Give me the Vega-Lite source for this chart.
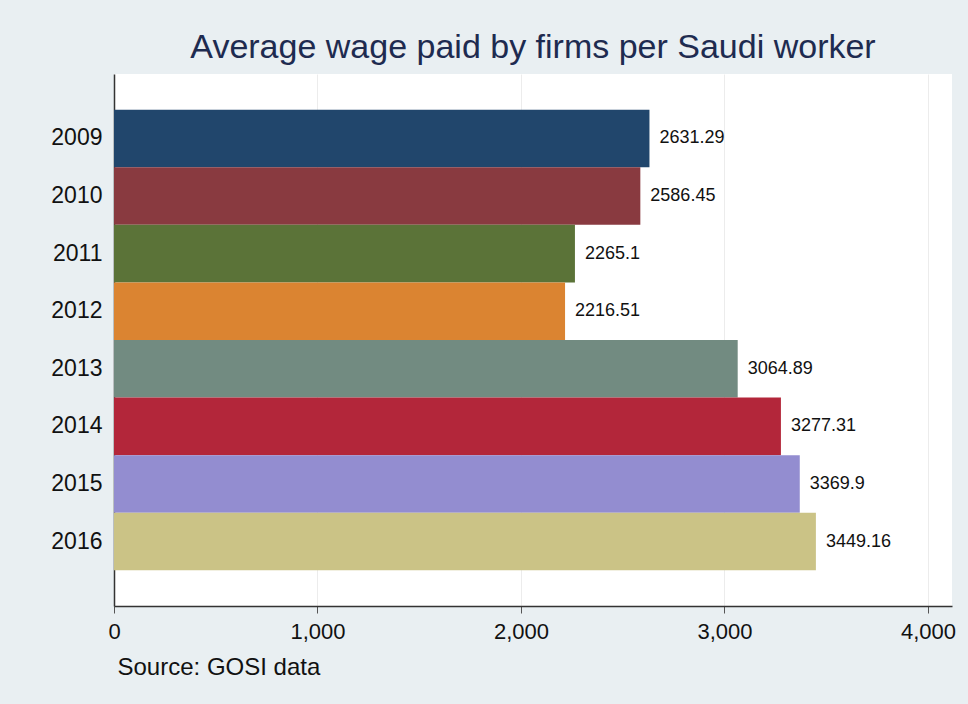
{
  "$schema": "https://vega.github.io/schema/vega-lite/v6.json",
  "autosize": {"type": "none"},
  "padding": {"left": 114, "top": 74, "right": 16, "bottom": 98},
  "width": 838,
  "height": 532,
  "background": "#e9eff2",
  "title": {
    "text": "Average wage paid by firms per Saudi worker",
    "anchor": "middle",
    "font": "Liberation Sans",
    "fontSize": 34,
    "fontWeight": "normal",
    "color": "#1e2b50",
    "offset": 9
  },
  "config": {
    "view": {"fill": "white", "stroke": null},
    "font": "Liberation Sans"
  },
  "data": {
    "values": [
      {"year": "2009", "wage": 2631.29},
      {"year": "2010", "wage": 2586.45},
      {"year": "2011", "wage": 2265.1},
      {"year": "2012", "wage": 2216.51},
      {"year": "2013", "wage": 3064.89},
      {"year": "2014", "wage": 3277.31},
      {"year": "2015", "wage": 3369.9},
      {"year": "2016", "wage": 3449.16}
    ]
  },
  "encoding": {
    "y": {
      "field": "year",
      "type": "nominal",
      "sort": "ascending",
      "scale": {"paddingInner": 0, "paddingOuter": 0.62},
      "axis": {
        "title": null,
        "ticks": false,
        "grid": false,
        "domainColor": "#333333",
        "domainWidth": 1.5,
        "labelFontSize": 23,
        "labelColor": "#111111",
        "labelPadding": 12
      }
    },
    "x": {
      "field": "wage",
      "type": "quantitative",
      "scale": {"domain": [0, 4118], "nice": false, "zero": true},
      "axis": {
        "values": [0, 1000, 2000, 3000, 4000],
        "format": ",.0f",
        "title": "Source: GOSI data",
        "titleAnchor": "start",
        "titleAlign": "left",
        "titleX": 3,
        "titleFontSize": 24,
        "titleFontWeight": "normal",
        "titleColor": "#111111",
        "titlePadding": 13,
        "labelFontSize": 22,
        "labelColor": "#111111",
        "labelPadding": 8,
        "labelOverlap": false,
        "labelFlush": false,
        "domainColor": "#333333",
        "domainWidth": 1.5,
        "tickColor": "#555555",
        "tickSize": 7,
        "grid": true,
        "gridColor": "#ececec",
        "gridWidth": 1
      }
    }
  },
  "layer": [
    {
      "mark": {"type": "bar"},
      "encoding": {
        "color": {
          "field": "year",
          "type": "nominal",
          "legend": null,
          "scale": {
            "domain": ["2009", "2010", "2011", "2012", "2013", "2014", "2015", "2016"],
            "range": ["#21466c", "#893a40", "#5b7338", "#db8431", "#728b81", "#b3263a", "#938dd0", "#cbc386"]
          }
        }
      }
    },
    {
      "mark": {"type": "text", "align": "left", "dx": 10, "fontSize": 18, "color": "#111111"},
      "encoding": {
        "text": {"field": "wage", "type": "quantitative", "format": ".6~g"}
      }
    }
  ]
}
